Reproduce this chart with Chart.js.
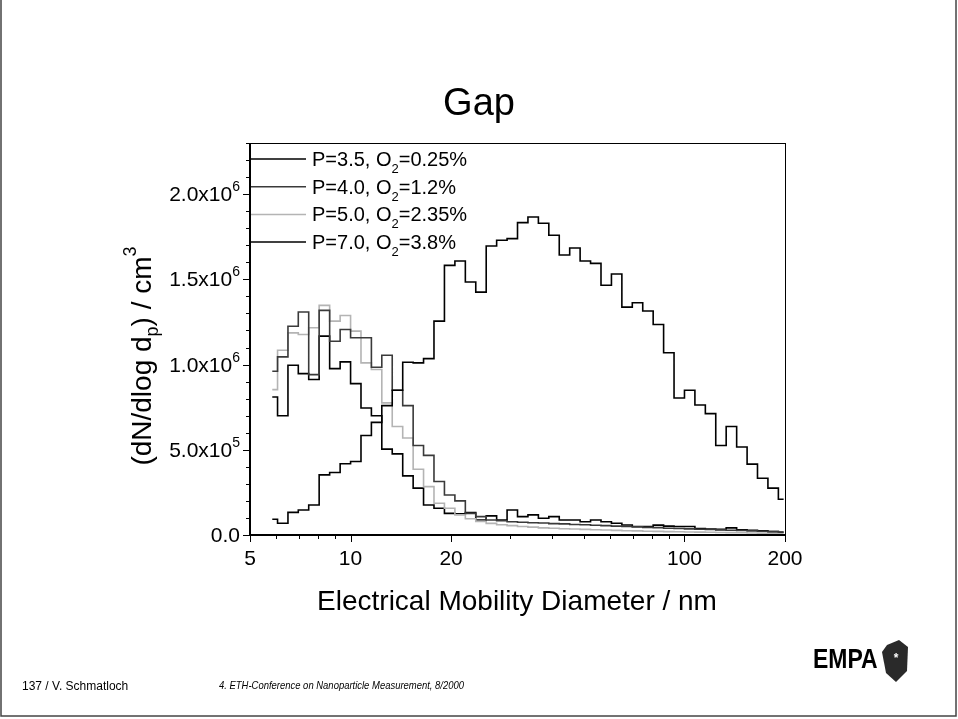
<!DOCTYPE html>
<html>
<head>
<meta charset="utf-8">
<script src="https://cdn.jsdelivr.net/npm/chart.js@4/dist/chart.umd.min.js"></script>
<style>
  html, body { margin: 0; padding: 0; background: #fff; }
  #wrap { position: relative; width: 958px; height: 719px; }
</style>
</head>
<body>
<div id="wrap"><canvas id="gapChart" width="958" height="719"></canvas></div>
<script>
// channel midpoints of the sizer, nm
const diameters = [5.83, 6.27, 6.73, 7.23, 7.77, 8.35, 8.98, 9.65,
  10.37, 11.14, 11.97, 12.86, 13.82, 14.86, 15.96, 17.15, 18.43, 19.81,
  21.29, 22.88, 24.58, 26.42, 28.39, 30.51, 32.78, 35.23, 37.86, 40.68,
  43.72, 46.98, 50.48, 54.25, 58.30, 62.65, 67.32, 72.34, 77.74, 83.54,
  89.77, 96.47, 103.66, 111.4, 119.7, 128.6, 138.2, 148.6, 159.6, 171.5, 184.3, 198.1];

// dN/dlog dp, cm^-3
const p35 = [92e3, 69e3, 133e3, 147e3, 176e3, 353e3, 367e3, 418e3, 431e3, 584e3,
  661e3, 759e3, 849e3, 1014e3, 1010e3, 1035e3, 1255e3, 1582e3, 1608e3, 1484e3,
  1425e3, 1696e3, 1729e3, 1739e3, 1833e3, 1866e3, 1829e3, 1759e3, 1643e3, 1684e3,
  1608e3, 1594e3, 1465e3, 1531e3, 1337e3, 1363e3, 1314e3, 1235e3, 1069e3, 804e3,
  849e3, 763e3, 712e3, 525e3, 637e3, 516e3, 416e3, 333e3, 275e3, 210e3];

const p40 = [961e3, 1045e3, 1225e3, 1308e3, 941e3, 1318e3, 1137e3, 1206e3, 1157e3, 1157e3,
  984e3, 1055e3, 849e3, 759e3, 525e3, 467e3, 314e3, 235e3, 200e3, 127e3,
  108e3, 88e3, 84e3, 78e3, 75e3, 72e3, 70e3, 67e3, 65e3, 62e3,
  60e3, 57e3, 55e3, 52e3, 50e3, 48e3, 45e3, 43e3, 40e3, 38e3,
  36e3, 34e3, 32e3, 30e3, 28e3, 26e3, 24e3, 22e3, 20e3, 18e3];

const p50 = [853e3, 1084e3, 1186e3, 1176e3, 1216e3, 1347e3, 1255e3, 1288e3, 1196e3, 1010e3,
  971e3, 775e3, 637e3, 569e3, 386e3, 284e3, 186e3, 157e3, 118e3, 95e3,
  80e3, 68e3, 60e3, 55e3, 50e3, 46e3, 42e3, 40e3, 37e3, 35e3,
  33e3, 31e3, 29e3, 27e3, 25e3, 24e3, 22e3, 21e3, 20e3, 19e3,
  18e3, 17e3, 16e3, 15e3, 14e3, 13e3, 12e3, 11e3, 10e3, 9e3];

const p70 = [810e3, 700e3, 996e3, 947e3, 912e3, 1167e3, 976e3, 1016e3, 888e3, 745e3,
  700e3, 504e3, 476e3, 347e3, 275e3, 176e3, 157e3, 127e3, 125e3, 131e3,
  88e3, 112e3, 88e3, 147e3, 108e3, 118e3, 98e3, 108e3, 88e3, 88e3,
  78e3, 88e3, 78e3, 69e3, 59e3, 49e3, 50e3, 58e3, 52e3, 50e3,
  50e3, 38e3, 35e3, 33e3, 42e3, 30e3, 28e3, 25e3, 20e3, 16e3];

const legendLabels = [
  ['P=3.5, O', '2', '=0.25%'],
  ['P=4.0, O', '2', '=1.2%'],
  ['P=5.0, O', '2', '=2.35%'],
  ['P=7.0, O', '2', '=3.8%']
];
const xTicksMajor = [5, 10, 20, 100, 200];
const xTicksMinor = [6, 7, 8, 9, 30, 40, 50, 60, 70, 80, 90];
const yTicksMajor = [[0, '0.0', ''], [5e5, '5.0x10', '5'], [1e6, '1.0x10', '6'],
  [1.5e6, '1.5x10', '6'], [2e6, '2.0x10', '6']];

const FONT = '"Liberation Sans", Arial, sans-serif';
const colors = ['#000000', '#3a3a3a', '#b4b4b4', '#000000'];

function pts(vals) {
  return diameters.map((d, i) => ({x: d, y: vals[i]}));
}

// text with one sub/superscript piece in the middle: [before, small, after]
function richWidth(ctx, parts, size) {
  ctx.font = size + 'px ' + FONT;
  let w = ctx.measureText(parts[0]).width + ctx.measureText(parts[2] || '').width;
  ctx.font = Math.round(size * 0.65) + 'px ' + FONT;
  return w + ctx.measureText(parts[1] || '').width;
}
function drawRich(ctx, parts, x, y, size, shift) {
  ctx.textAlign = 'left';
  ctx.textBaseline = 'alphabetic';
  ctx.font = size + 'px ' + FONT;
  ctx.fillText(parts[0], x, y);
  x += ctx.measureText(parts[0]).width;
  if (parts[1]) {
    ctx.font = Math.round(size * 0.65) + 'px ' + FONT;
    ctx.fillText(parts[1], x, y + shift);
    x += ctx.measureText(parts[1]).width;
  }
  if (parts[2]) {
    ctx.font = size + 'px ' + FONT;
    ctx.fillText(parts[2], x, y);
  }
}

const slideDecor = {
  id: 'slideDecor',
  afterDraw(chart) {
    const {ctx, chartArea: a, scales: {x, y}} = chart;
    ctx.save();
    ctx.fillStyle = '#000';
    ctx.strokeStyle = '#000';

    // axis box
    ctx.lineWidth = 1;
    ctx.strokeRect(a.left + 0.5, a.top + 0.5, a.right - a.left, a.bottom - a.top);
    ctx.lineWidth = 2;
    ctx.beginPath();
    ctx.moveTo(a.left, a.top); ctx.lineTo(a.left, a.bottom); ctx.lineTo(a.right, a.bottom);
    ctx.stroke();

    // x ticks
    ctx.lineWidth = 1;
    ctx.beginPath();
    xTicksMajor.forEach(v => {
      const px = Math.round(x.getPixelForValue(v)) + 0.5;
      ctx.moveTo(px, a.bottom); ctx.lineTo(px, a.bottom + 7);
    });
    xTicksMinor.forEach(v => {
      const px = Math.round(x.getPixelForValue(v)) + 0.5;
      ctx.moveTo(px, a.bottom); ctx.lineTo(px, a.bottom + 4);
    });
    // y ticks, minor every 1e5
    for (let v = 0; v <= 2.3e6 + 1; v += 1e5) {
      const py = Math.round(y.getPixelForValue(v)) + 0.5;
      const major = Math.round(v / 1e5) % 5 === 0;
      ctx.moveTo(a.left, py); ctx.lineTo(a.left - (major ? 7 : 4), py);
    }
    ctx.stroke();

    // tick labels
    ctx.font = '21px ' + FONT;
    ctx.textAlign = 'center';
    ctx.textBaseline = 'alphabetic';
    xTicksMajor.forEach(v => ctx.fillText(String(v), x.getPixelForValue(v), a.bottom + 30));
    yTicksMajor.forEach(t => {
      const w = richWidth(ctx, [t[1], t[2], ''], 21);
      drawRich(ctx, [t[1], t[2], ''], a.left - 10 - w, y.getPixelForValue(t[0]) + 7, 21, -10);
    });

    // legend
    legendLabels.forEach((lab, i) => {
      const ly = 159 + i * 27.7;
      ctx.strokeStyle = colors[i];
      ctx.lineWidth = 1.5;
      ctx.beginPath();
      ctx.moveTo(a.left + 1, ly); ctx.lineTo(a.left + 56, ly);
      ctx.stroke();
      ctx.fillStyle = '#000';
      drawRich(ctx, lab, a.left + 62, ly + 7, 20, 7);
    });

    // titles
    ctx.fillStyle = '#000';
    ctx.font = '38px ' + FONT;
    ctx.textAlign = 'center';
    ctx.fillText('Gap', 479, 115);
    ctx.font = '28px ' + FONT;
    ctx.fillText('Electrical Mobility Diameter / nm', 517, 610);

    ctx.save();
    ctx.translate(151, 356);
    ctx.rotate(-Math.PI / 2);
    const yParts1 = ['(dN/dlog d', 'p', ') / cm'];
    let w = richWidth(ctx, yParts1, 28);
    ctx.font = '18px ' + FONT;
    w += ctx.measureText('3').width;
    drawRich(ctx, yParts1, -w / 2, 0, 28, 7);
    ctx.font = '18px ' + FONT;
    ctx.textAlign = 'right';
    ctx.fillText('3', w / 2, -15);
    ctx.restore();

    // footer
    ctx.textAlign = 'left';
    ctx.font = '12px ' + FONT;
    ctx.fillText('137 / V. Schmatloch', 22, 690);
    ctx.save();
    ctx.translate(219, 689);
    ctx.scale(0.86, 1);
    ctx.font = 'italic 11px ' + FONT;
    ctx.fillText('4. ETH-Conference on Nanoparticle Measurement, 8/2000', 0, 0);
    ctx.restore();

    // EMPA mark
    ctx.font = 'bold 28px ' + FONT;
    ctx.save();
    ctx.translate(813, 668);
    ctx.scale(0.82, 1);
    ctx.fillText('EMPA', 0, 0);
    ctx.restore();
    ctx.fillStyle = '#2a2a2a';
    ctx.beginPath();
    ctx.moveTo(887, 645); ctx.lineTo(899, 640); ctx.lineTo(908, 647);
    ctx.lineTo(907, 671); ctx.lineTo(896, 682); ctx.lineTo(886, 673);
    ctx.lineTo(882, 652); ctx.closePath();
    ctx.fill();
    ctx.fillStyle = '#fff';
    ctx.font = 'bold 12px ' + FONT;
    ctx.textAlign = 'center';
    ctx.fillText('*', 896, 662);

    // slide border
    ctx.strokeStyle = '#444';
    ctx.lineWidth = 1.5;
    ctx.strokeRect(1, -2, 955, 718);
    ctx.restore();
  }
};

function series(label, vals, i) {
  return {
    label: label,
    data: pts(vals),
    borderColor: colors[i],
    borderWidth: 1.6,
    stepped: 'middle',
    pointRadius: 0,
    fill: false
  };
}

new Chart(document.getElementById('gapChart').getContext('2d'), {
  type: 'line',
  data: {
    datasets: [
      series('P=3.5, O2=0.25%', p35, 0),
      series('P=4.0, O2=1.2%', p40, 1),
      series('P=5.0, O2=2.35%', p50, 2),
      series('P=7.0, O2=3.8%', p70, 3)
    ]
  },
  options: {
    responsive: false,
    animation: false,
    layout: { padding: { left: 250, right: 173, top: 143, bottom: 184 } },
    plugins: { legend: { display: false }, tooltip: { enabled: false } },
    scales: {
      x: { type: 'logarithmic', min: 5, max: 200, display: false },
      y: { type: 'linear', min: 0, max: 2.3e6, display: false }
    }
  },
  plugins: [slideDecor]
});
</script>
</body>
</html>
